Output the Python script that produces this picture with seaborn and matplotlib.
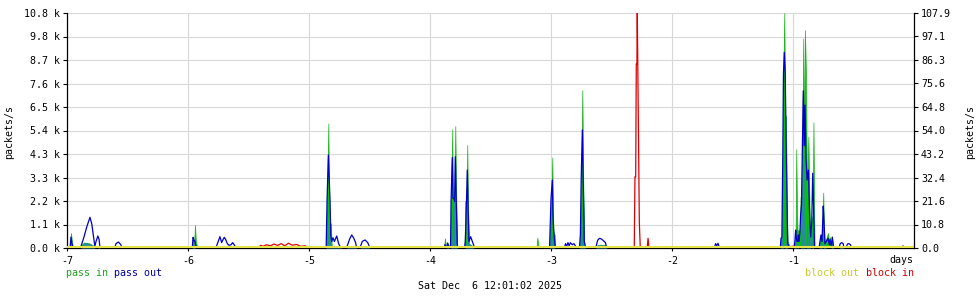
import numpy as np
import pandas as pd
import matplotlib
matplotlib.use("Agg")
import matplotlib.pyplot as plt
import seaborn as sns

# ---------------- data (days relative to now, packets/s) ----------------
times = [
    -7.000, -6.975, -6.967, -6.959, -6.950, -6.900, -6.885, -6.860, -6.835, -6.810,
    -6.795, -6.780, -6.770, -6.760, -6.745, -6.735, -6.727, -6.660, -6.645, -6.620,
    -6.605, -6.595, -6.575, -6.555, -6.545,
    -5.965, -5.958, -5.950, -5.942, -5.935, -5.926, -5.900, -5.860, -5.850, -5.770,
    -5.736, -5.722, -5.711, -5.700, -5.688, -5.675, -5.661, -5.645, -5.631, -5.615,
    -5.603,
    -4.980, -4.975, -4.858, -4.851, -4.840, -4.833, -4.826, -4.820, -4.812, -4.802,
    -4.790, -4.771, -4.755, -4.744, -4.730, -4.690, -4.665, -4.647, -4.630, -4.615,
    -4.606, -4.579, -4.560, -4.537, -4.515, -4.496,
    -3.885, -3.876, -3.868, -3.862, -3.855, -3.845, -3.835, -3.830, -3.826, -3.816,
    -3.810, -3.803, -3.797, -3.791, -3.783, -3.775, -3.770, -3.715, -3.708, -3.700,
    -3.692, -3.685, -3.678, -3.664, -3.650, -3.636, -3.620,
    -3.120, -3.113, -3.105, -3.098, -3.012, -3.008, -3.000, -2.989, -2.984, -2.979,
    -2.970, -2.964, -2.890, -2.880, -2.870, -2.860, -2.850, -2.840, -2.825, -2.810,
    -2.795, -2.777, -2.765, -2.757, -2.750, -2.741, -2.733, -2.725, -2.715, -2.700,
    -2.630, -2.615, -2.600, -2.585, -2.570, -2.550, -2.540,
    -1.650, -1.640, -1.630, -1.620, -1.610, -1.600,
    -1.105, -1.099, -1.092, -1.085, -1.079, -1.072, -1.064, -1.058, -1.050, -1.044,
    -1.037, -1.030, -0.990, -0.983, -0.978, -0.973, -0.967, -0.960, -0.956, -0.950,
    -0.942, -0.937, -0.930, -0.924, -0.915, -0.907, -0.901, -0.893, -0.884, -0.873,
    -0.862, -0.854, -0.845, -0.837, -0.831, -0.822, -0.785, -0.777, -0.769, -0.760,
    -0.750, -0.744, -0.736, -0.725, -0.711, -0.700, -0.694, -0.685, -0.675, -0.665,
    -0.620, -0.610, -0.598, -0.585, -0.579, -0.562, -0.550, -0.538, -0.525, -0.515,
    -0.100, -0.091, -0.085, 0.000,
]
pass_in = [
    0, 0, 690, 300, 0, 0, 120, 250, 240, 200,
    150, 100, 0, 0, 0, 60, 0, 0, 0, 0,
    0, 0, 0, 0, 0,
    0, 400, 200, 1055, 300, 100, 80, 60, 0, 0,
    0, 0, 0, 0, 0, 0, 0, 0, 0, 0,
    0,
    0, 0, 0, 2160, 5720, 1130, 1130, 1130, 100, 80,
    80, 90, 80, 80, 80, 80, 90, 80, 80, 70,
    70, 70, 80, 80, 60, 0,
    0, 445, 0, 0, 230, 100, 0, 0, 2130, 5460,
    2130, 2130, 2130, 5600, 2130, 0, 0, 0, 2160, 300,
    4730, 1820, 200, 150, 100, 0, 0,
    0, 475, 150, 0, 0, 750, 1590, 4160, 1590, 750,
    600, 0, 0, 0, 0, 0, 0, 0, 0, 0,
    0, 0, 0, 630, 2850, 7250, 2850, 100, 0, 0,
    0, 140, 150, 150, 140, 140, 0,
    0, 0, 0, 0, 0, 0,
    0, 445, 500, 3890, 8320, 10790, 6000, 6060, 1500, 300,
    200, 0, 0, 400, 825, 4540, 1710, 300, 825, 500,
    1000, 2350, 2000, 4070, 9620, 4700, 10000, 7990, 2350, 5110,
    1360, 690, 1360, 1500, 5770, 0, 0, 300, 600, 400,
    2540, 800, 200, 400, 690, 200, 500, 0, 400, 0,
    0, 50, 60, 50, 0, 0, 0, 0, 0, 0,
    0, 0, 0, 0,
]
pass_out = [
    0, 0, 500, 200, 0, 0, 60, 500, 1000, 1410,
    1100, 500, 80, 300, 550, 400, 0, 0, 60, 60,
    0, 200, 275, 150, 0,
    0, 490, 350, 300, 100, 60, 0, 0, 0, 0,
    520, 250, 380, 490, 380, 200, 120, 150, 245, 120,
    0,
    0, 60, 60, 2160, 4270, 3270, 2160, 600, 300, 470,
    300, 550, 200, 80, 0, 0, 400, 600, 450, 250,
    0, 0, 300, 370, 250, 0,
    0, 150, 30, 0, 230, 80, 60, 60, 2130, 4150,
    2280, 2280, 2130, 4190, 2130, 200, 0, 0, 300, 1820,
    3580, 1820, 300, 520, 300, 80, 0,
    0, 0, 0, 0, 0, 750, 2250, 3120, 1590, 900,
    300, 0, 0, 200, 80, 245, 100, 245, 150, 200,
    60, 0, 0, 630, 3300, 5420, 2850, 300, 60, 0,
    0, 350, 445, 420, 350, 250, 0,
    0, 200, 100, 215, 60, 0,
    0, 445, 500, 3890, 7990, 8980, 7990, 5290, 2430, 200,
    150, 0, 0, 400, 825, 500, 300, 300, 600, 300,
    800, 1500, 2000, 4070, 7220, 4700, 6560, 4190, 3120, 3580,
    1360, 500, 1200, 3430, 2200, 0, 0, 300, 600, 300,
    1930, 1250, 200, 300, 450, 150, 400, 100, 500, 0,
    0, 200, 245, 200, 0, 0, 180, 200, 150, 0,
    0, 100, 0, 0,
]
block_in_t = [
    -7.000, -5.420, -5.400, -5.380, -5.350, -5.320, -5.290, -5.260, -5.230, -5.200,
    -5.170, -5.140, -5.100, -5.070, -5.030, -5.010, -2.312, -2.306, -2.300, -2.295,
    -2.290, -2.287, -2.279, -2.270, -2.262, -2.205, -2.198, -2.190, -1.020, -1.010,
    -0.990, -0.980, 0.000,
]
block_in_v = [
    0, 0, 120, 80, 150, 100, 180, 120, 200, 100,
    220, 130, 160, 80, 100, 0, 0, 3270, 3270, 8450,
    8450, 10790, 6330, 1160, 0, 0, 445, 0, 0, 80,
    80, 0, 0,
]
block_out_t = [-7.0, 0.0]
block_out_v = [40, 40]

x_ticks = [-7, -6, -5, -4, -3, -2, -1]
x_labels = ["-7", "-6", "-5", "-4", "-3", "-2", "-1"]
y_ticks = [0, 1079, 2158, 3237, 4316, 5395, 6474, 7553, 8632, 9711, 10790]
y_labels = ["0.0 k", "1.1 k", "2.2 k", "3.3 k", "4.3 k", "5.4 k",
            "6.5 k", "7.6 k", "8.7 k", "9.8 k", "10.8 k"]
y2_ticks = [0, 10.79, 21.58, 32.37, 43.16, 53.95, 64.74, 75.53, 86.32, 97.11, 107.9]
y2_labels = ["0.0", "10.8", "21.6", "32.4", "43.2", "54.0",
             "64.8", "75.6", "86.3", "97.1", "107.9"]

# ---------------- style ----------------
sns.set_theme(style="ticks")
plt.rcParams["font.family"] = ["DejaVu Sans Mono", "DejaVu Sans"]
FS = 7.2

df = pd.DataFrame({"t": times, "pass_in": pass_in, "pass_out": pass_out})
# columns where the pass-out line covers the pass-in area are drawn darker (teal)
df["overlap"] = np.where(df["pass_out"] >= df["pass_in"], df["pass_in"], 0)
dfr = pd.DataFrame({"t": block_in_t, "v": block_in_v})
dfy = pd.DataFrame({"t": block_out_t, "v": block_out_v})

fig = plt.figure(figsize=(9.8, 3.0), dpi=100)
fig.patch.set_facecolor("white")
ax = fig.add_axes([67 / 980, 52 / 300, 847 / 980, 235 / 300])
ax.set_facecolor("white")

ax.fill_between(df["t"], 0, df["pass_in"], color="#00c800", edgecolor="#22b022",
                linewidth=0.5, zorder=2)
ax.fill_between(df["t"], 0, df["overlap"], color="#2a8a9c", linewidth=0, zorder=3)
sns.lineplot(data=df, x="t", y="pass_out", ax=ax, color="#0000c8", linewidth=0.9,
             estimator=None, sort=False, zorder=4)
sns.lineplot(data=dfr, x="t", y="v", ax=ax, color="#dd0000", linewidth=0.9,
             estimator=None, sort=False, zorder=5)
sns.lineplot(data=dfy, x="t", y="v", ax=ax, color="#e4e448", linewidth=1.5,
             estimator=None, sort=False, zorder=6)

ax.set_xlim(-7, 0)
ax.set_ylim(0, 10790)
ax.set_xticks(x_ticks)
ax.set_xticklabels(x_labels)
ax.set_yticks(y_ticks)
ax.set_yticklabels(y_labels)
ax.set_xlabel("")
ax.set_ylabel("")
ax.grid(True, color="#d8d8d8", linewidth=0.8, zorder=0)
ax.set_axisbelow(True)
for s in ["left", "bottom"]:
    ax.spines[s].set_color("black")
    ax.spines[s].set_linewidth(0.9)
ax.spines["top"].set_visible(False)
ax.spines["right"].set_visible(False)
ax.tick_params(axis="y", direction="out", length=3, width=0.8, pad=2.2,
               labelsize=FS, colors="black")
ax.tick_params(axis="x", direction="out", length=2, width=0.8, pad=3.5,
               labelsize=FS, colors="black")

ax2 = ax.twinx()
ax2.set_ylim(0, 107.9)
ax2.set_yticks(y2_ticks)
ax2.set_yticklabels(y2_labels)
ax2.spines["right"].set_color("black")
ax2.spines["right"].set_linewidth(0.9)
for s in ["top", "left", "bottom"]:
    ax2.spines[s].set_visible(False)
ax2.tick_params(axis="y", direction="out", length=3, width=0.8, pad=2.0,
                labelsize=FS, colors="black")
ax2.grid(False)

# texts
fig.text(8.7 / 980, 1 - 132 / 300, "packets/s", rotation=90, ha="center", va="center",
         fontsize=FS, color="black")
fig.text(970 / 980, 1 - 132 / 300, "packets/s", rotation=90, ha="center", va="center",
         fontsize=FS, color="black")
fig.text(913 / 980, 1 - 260 / 300, "days", ha="right", va="center", fontsize=FS,
         color="black")
fig.text(66.5 / 980, 1 - 273 / 300, "pass in", ha="left", va="center", fontsize=FS,
         color="#22a022")
fig.text(114 / 980, 1 - 273 / 300, "pass out", ha="left", va="center", fontsize=FS,
         color="#0000a0")
fig.text(805 / 980, 1 - 273 / 300, "block out", ha="left", va="center", fontsize=FS,
         color="#c8c832")
fig.text(865.5 / 980, 1 - 273 / 300, "block in", ha="left", va="center", fontsize=FS,
         color="#cc0000")
fig.text(490 / 980, 1 - 286 / 300, "Sat Dec  6 12:01:02 2025", ha="center", va="center",
         fontsize=FS, color="black")

fig.savefig("out.png", dpi=100, facecolor="white")
